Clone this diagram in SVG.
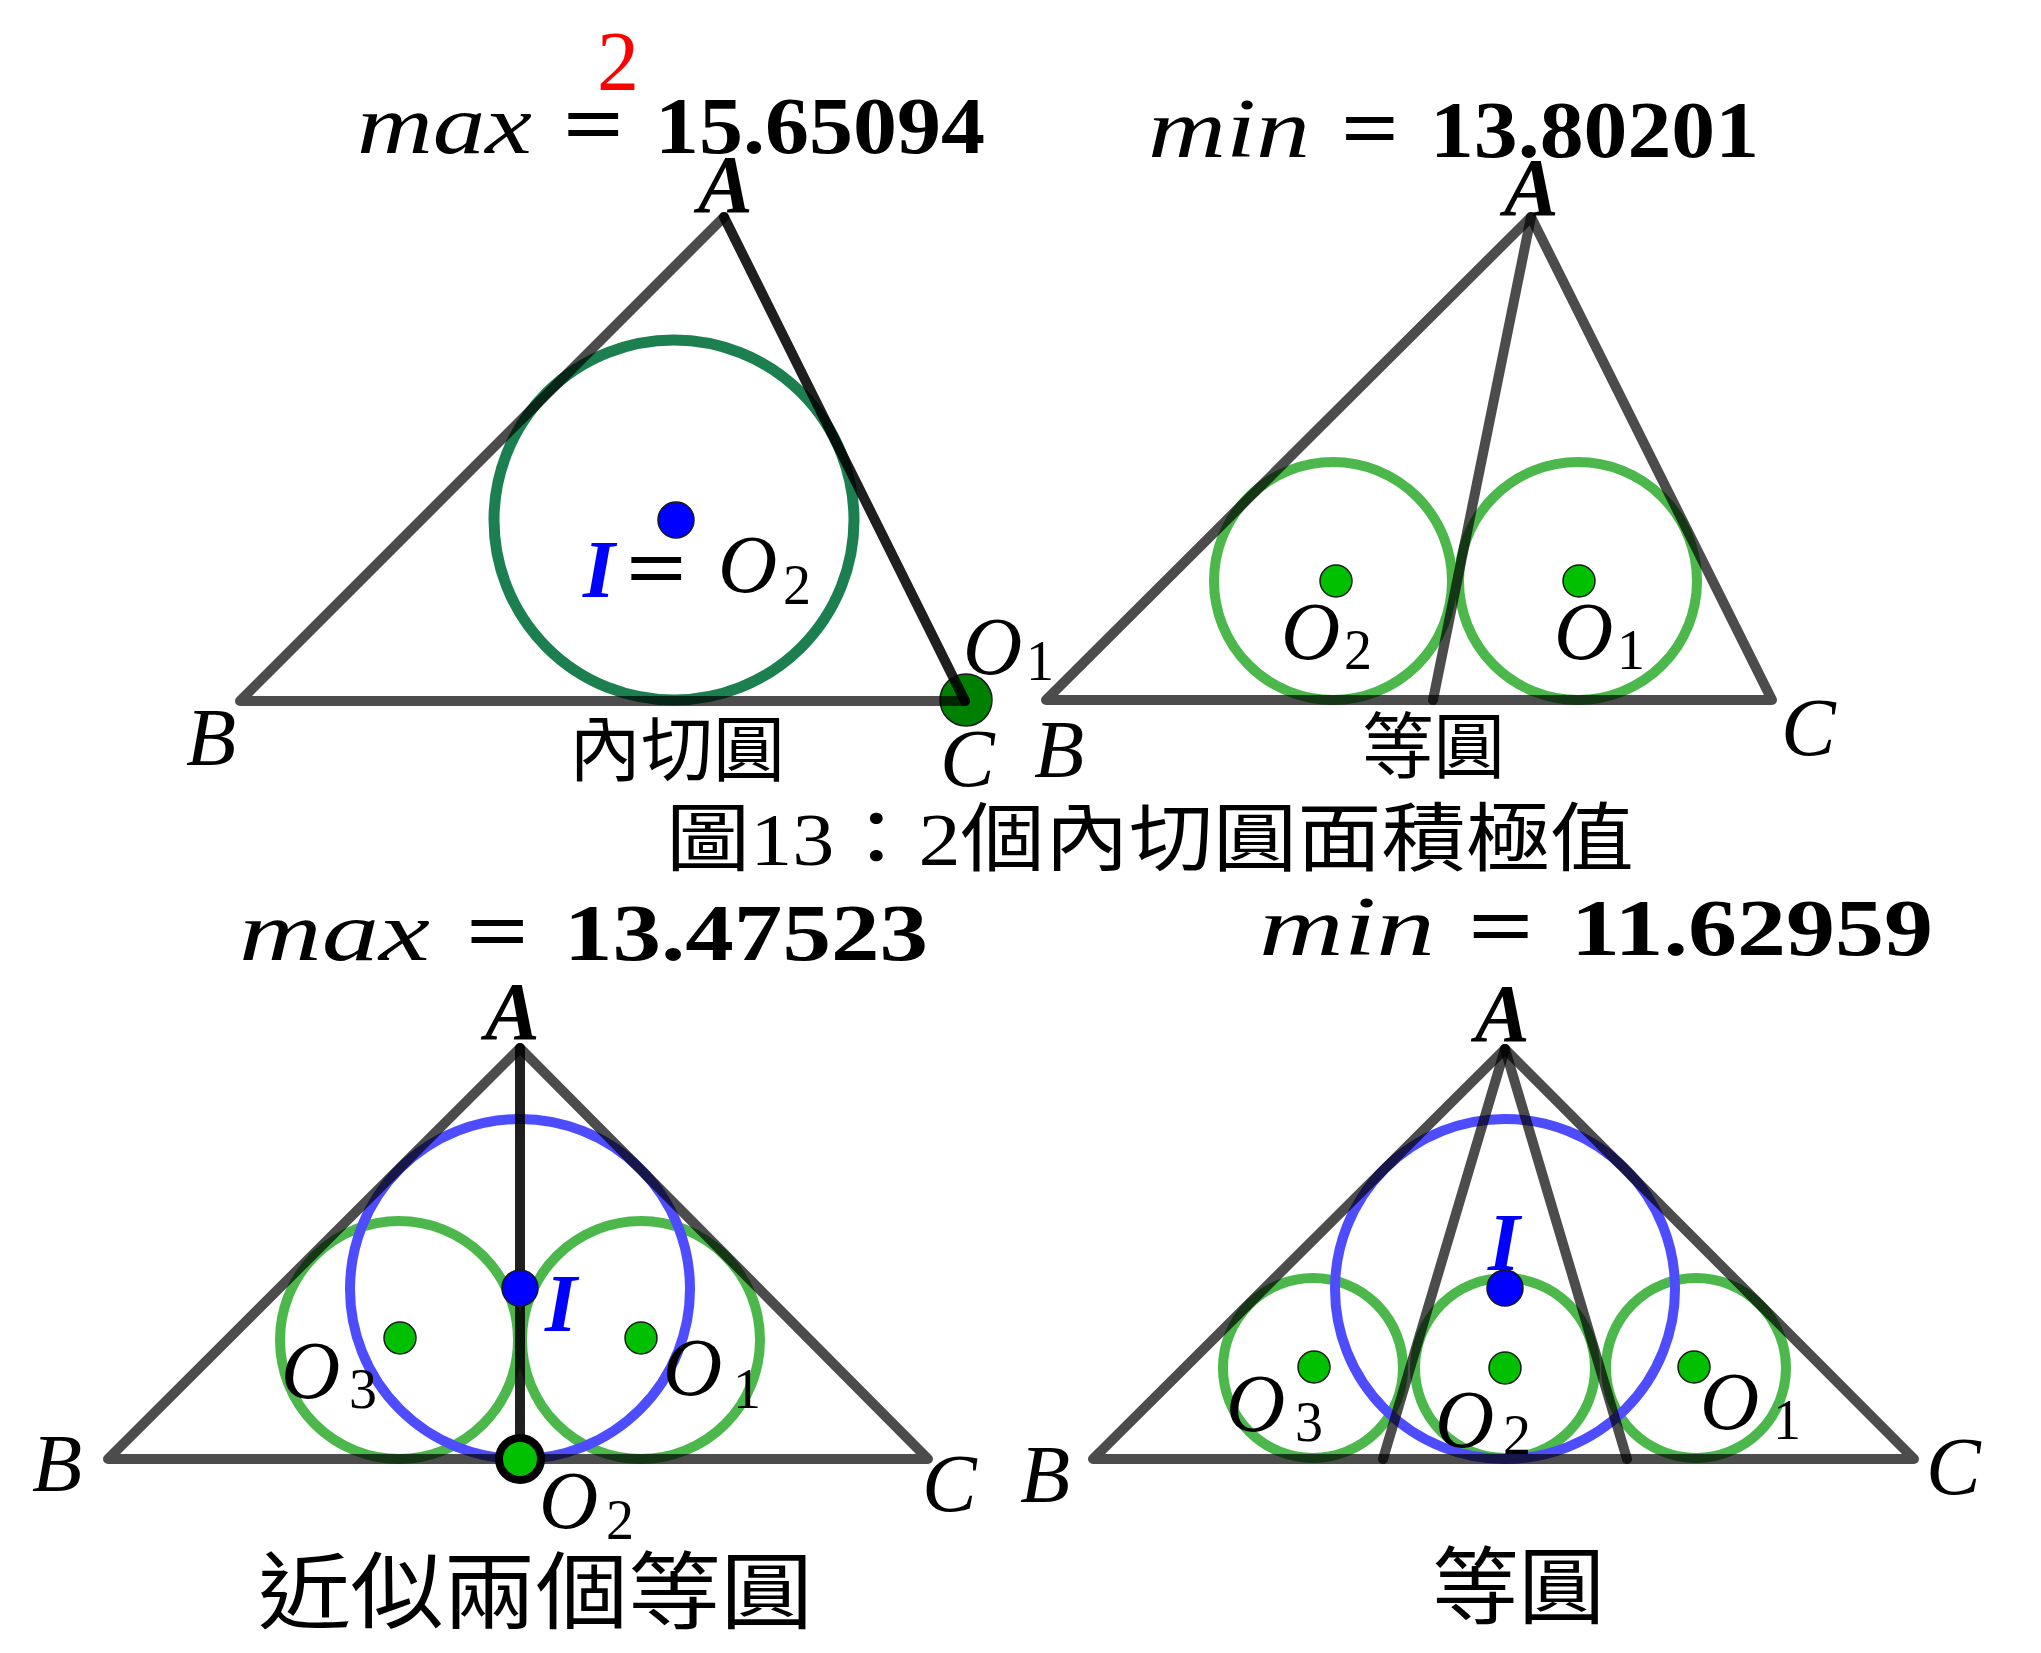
<svg xmlns="http://www.w3.org/2000/svg" width="2041" height="1653" viewBox="0 0 2041 1653">
<style>
.tri{fill:none;stroke:#000;stroke-opacity:0.7;stroke-width:10;stroke-linecap:round;stroke-linejoin:round}
.dark{fill:none;stroke:#000;stroke-opacity:0.88;stroke-width:10;stroke-linecap:round}
.gc{fill:none;stroke:#4cb84c;stroke-width:10}
.bc{fill:none;stroke:#4d4dff;stroke-width:10}
.ic{fill:none;stroke:#1b7f50;stroke-width:11}
.gdot{fill:#00c000;stroke:#1a1a1a;stroke-width:1.5}
.bdot{fill:#0000ff;stroke:#1a1a1a;stroke-width:1.5}
.lbl{font-family:'Liberation Serif',serif;font-style:italic;font-size:82px;fill:#000}
.va{font-weight:bold}
.sub{font-family:'Liberation Serif',serif;font-size:56px;fill:#000}
.blue{fill:#0000ff;font-weight:bold}
.mi{font-family:'Liberation Serif',serif;font-style:italic;font-size:84px;fill:#000}
.eq{font-family:'Liberation Serif',serif;font-weight:bold;font-size:84px;fill:#000}
.num{font-family:'Liberation Serif',serif;font-weight:bold;font-size:80px;fill:#000}
.cjk{font-family:'Liberation Serif','Noto Sans CJK TC',sans-serif;fill:#000}
</style>

<g id="panel-top-left">
  <text x="618" y="90" text-anchor="middle" style="font-family:'Liberation Serif',serif;font-size:84px;fill:#ff0000">2</text>
  <text class="mi" x="357" y="153" textLength="175" lengthAdjust="spacingAndGlyphs">max</text>
  <text class="eq" x="563" y="153" textLength="61" lengthAdjust="spacingAndGlyphs">=</text>
  <text class="num" x="655" y="153" textLength="330" lengthAdjust="spacingAndGlyphs">15.65094</text>
  <circle class="ic" cx="674" cy="520" r="180"/>
  <circle cx="966" cy="700" r="26" style="fill:#008000;stroke:#1a1a1a;stroke-width:1.5"/>
  <polyline class="tri" points="724,217 240,701 965,701"/>
  <line class="dark" x1="724" y1="217" x2="965" y2="701"/>
  <circle class="bdot" cx="676" cy="520" r="18"/>
  <text class="lbl va" x="698" y="212">A</text>
  <text class="lbl" x="186" y="765">B</text>
  <text class="lbl" x="940" y="786">C</text>
  <text class="lbl" x="963" y="674">O</text><text class="sub" x="1026" y="680">1</text>
  <text class="lbl blue" x="583" y="597">I</text>
  <text class="eq" x="626" y="597" textLength="61" lengthAdjust="spacingAndGlyphs">=</text>
  <text class="lbl" x="718" y="592">O</text><text class="sub" x="783" y="604">2</text>
  <text class="cjk" x="569" y="775" font-size="72" textLength="216" lengthAdjust="spacingAndGlyphs">內切圓</text>
</g>

<g id="panel-top-right">
  <text class="mi" x="1148" y="157" textLength="162" lengthAdjust="spacingAndGlyphs">min</text>
  <text class="eq" x="1341" y="157" textLength="58" lengthAdjust="spacingAndGlyphs">=</text>
  <text class="num" x="1430" y="157" textLength="329" lengthAdjust="spacingAndGlyphs">13.80201</text>
  <circle class="gc" cx="1333" cy="581" r="119"/>
  <circle class="gc" cx="1578" cy="581" r="119"/>
  <polygon class="tri" points="1531,217 1046,700 1772,700"/>
  <line class="tri" x1="1531" y1="217" x2="1433" y2="700"/>
  <circle class="gdot" cx="1336" cy="581" r="16"/>
  <circle class="gdot" cx="1579" cy="581" r="16"/>
  <text class="lbl va" x="1504" y="215">A</text>
  <text class="lbl" x="1034" y="777">B</text>
  <text class="lbl" x="1781" y="755">C</text>
  <text class="lbl" x="1281" y="659">O</text><text class="sub" x="1344" y="669">2</text>
  <text class="lbl" x="1554" y="659">O</text><text class="sub" x="1617" y="669">1</text>
  <text class="cjk" x="1362" y="772" font-size="72" textLength="143" lengthAdjust="spacingAndGlyphs">等圓</text>
</g>

<text id="caption-13" class="cjk" x="666" y="865" font-size="75" textLength="968" lengthAdjust="spacingAndGlyphs">圖13：2個內切圓面積極值</text>

<g id="panel-bottom-left">
  <text class="mi" x="239" y="960" textLength="191" lengthAdjust="spacingAndGlyphs">max</text>
  <text class="eq" x="466" y="960" textLength="63" lengthAdjust="spacingAndGlyphs">=</text>
  <text class="num" x="564" y="960" textLength="364" lengthAdjust="spacingAndGlyphs">13.47523</text>
  <circle class="gc" cx="399" cy="1340" r="119"/>
  <circle class="gc" cx="641" cy="1340" r="119"/>
  <circle class="bc" cx="520" cy="1289" r="170"/>
  <polygon class="tri" points="520,1048 108,1459 928,1459"/>
  <line class="dark" x1="520" y1="1048" x2="520" y2="1459"/>
  <circle class="bdot" cx="520" cy="1288" r="18"/>
  <circle class="gdot" cx="400" cy="1338" r="16"/>
  <circle class="gdot" cx="641" cy="1338" r="16"/>
  <circle cx="520" cy="1459" r="21" style="fill:#00c000;stroke:#000;stroke-width:8"/>
  <text class="lbl va" x="485" y="1039">A</text>
  <text class="lbl" x="32" y="1491">B</text>
  <text class="lbl" x="922" y="1511">C</text>
  <text class="lbl blue" x="545" y="1331">I</text>
  <text class="lbl" x="281" y="1398">O</text><text class="sub" x="349" y="1408">3</text>
  <text class="lbl" x="663" y="1395">O</text><text class="sub" x="733" y="1408">1</text>
  <text class="lbl" x="539" y="1528">O</text><text class="sub" x="606" y="1539">2</text>
  <text class="cjk" x="258" y="1622" font-size="84" textLength="555" lengthAdjust="spacingAndGlyphs">近似兩個等圓</text>
</g>

<g id="panel-bottom-right">
  <text class="mi" x="1259" y="955" textLength="176" lengthAdjust="spacingAndGlyphs">min</text>
  <text class="eq" x="1468" y="955" textLength="66" lengthAdjust="spacingAndGlyphs">=</text>
  <text class="num" x="1571" y="955" textLength="362" lengthAdjust="spacingAndGlyphs">11.62959</text>
  <circle class="gc" cx="1313" cy="1368" r="90"/>
  <circle class="gc" cx="1505" cy="1368" r="90"/>
  <circle class="gc" cx="1696" cy="1368" r="90"/>
  <circle class="bc" cx="1505" cy="1289" r="170"/>
  <polygon class="tri" points="1505,1049 1093,1459 1914,1459"/>
  <line class="tri" x1="1505" y1="1049" x2="1383" y2="1459"/>
  <line class="tri" x1="1505" y1="1049" x2="1627" y2="1459"/>
  <circle class="bdot" cx="1505" cy="1288" r="18"/>
  <circle class="gdot" cx="1314" cy="1367" r="16"/>
  <circle class="gdot" cx="1505" cy="1368" r="16"/>
  <circle class="gdot" cx="1694" cy="1367" r="16"/>
  <text class="lbl va" x="1475" y="1041">A</text>
  <text class="lbl" x="1020" y="1502">B</text>
  <text class="lbl" x="1926" y="1494">C</text>
  <text class="lbl blue" x="1488" y="1270">I</text>
  <text class="lbl" x="1226" y="1431">O</text><text class="sub" x="1295" y="1441">3</text>
  <text class="lbl" x="1435" y="1447">O</text><text class="sub" x="1503" y="1454">2</text>
  <text class="lbl" x="1700" y="1429">O</text><text class="sub" x="1773" y="1439">1</text>
  <text class="cjk" x="1432" y="1617" font-size="84" textLength="173" lengthAdjust="spacingAndGlyphs">等圓</text>
</g>
</svg>
